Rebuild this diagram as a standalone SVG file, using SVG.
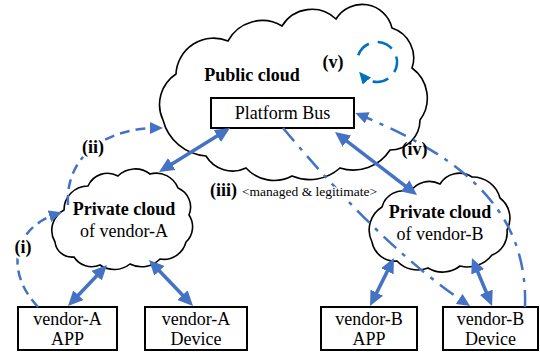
<svg xmlns="http://www.w3.org/2000/svg" width="540" height="355" viewBox="0 0 540 355">
<style>
.cloud{fill:#fff;stroke:#000;stroke-width:1.6}
.box{fill:#fff;stroke:#000;stroke-width:2}
.t{font-family:"Liberation Serif","Times New Roman",serif;font-size:18px;fill:#000;text-anchor:middle}
.b{font-weight:bold}
.thick{fill:none;stroke:#4472C4;stroke-width:3.5;marker-start:url(#ah);marker-end:url(#ah)}
.dash{fill:none;stroke:#4472C4;stroke-width:2.5;stroke-dasharray:10 6;marker-end:url(#dh)}
.dashdot{fill:none;stroke:#4472C4;stroke-width:2.5;stroke-dasharray:17 8 4 8;marker-end:url(#dh)}
.halo{stroke:#fff;stroke-width:5;paint-order:stroke;stroke-linejoin:round}
</style>
<defs>
<marker id="ah" viewBox="0 0 15 14" markerUnits="userSpaceOnUse" markerWidth="15" markerHeight="14" refX="5" refY="7" orient="auto-start-reverse">
<path d="M0,0 L15,7 L0,14 z" fill="#4472C4"/>
</marker>
<marker id="dh" viewBox="0 0 13 12" markerUnits="userSpaceOnUse" markerWidth="13" markerHeight="12" refX="9" refY="6" orient="auto">
<path d="M0,0 L13,6 L0,12 z" fill="#4472C4"/>
</marker>
<marker id="vh" viewBox="0 0 12 11" markerUnits="userSpaceOnUse" markerWidth="12" markerHeight="11" refX="8" refY="5.5" orient="auto">
<path d="M0,0 L12,5.5 L0,11 z" fill="#0070C0"/>
</marker>
</defs>

<g id="node-public-cloud">
<path class="cloud" d="M163,120 A36.5,36.5 0 0 1 176,74 A37.6,37.6 0 0 1 228,41 A38.7,38.7 0 0 1 282,26 A35,35 0 0 1 336,19 A30.7,30.7 0 0 1 392,28 A31.4,31.4 0 0 1 412,68 A37,37 0 0 1 420,120 A30,30 0 0 1 390,150 A43.5,43.5 0 0 1 340,168 A45.6,45.6 0 0 1 292,176 A38,38 0 0 1 246,168 A31,31 0 0 1 206,156 A48,48 0 0 1 163,120 Z"/>
<text class="t b" x="252" y="81">Public cloud</text>
</g>

<g id="node-platform-bus">
<rect class="box" x="211" y="98" width="143" height="30"/>
<text class="t" x="282.5" y="119">Platform Bus</text>
</g>

<g id="node-private-cloud-a">
<path class="cloud" d="M55,242 A23,23 0 0 1 64,210 A24,24 0 0 1 88,186 A21.4,21.4 0 0 1 118,176 A24.3,24.3 0 0 1 150,174 A23.5,23.5 0 0 1 178,188 A20.7,20.7 0 0 1 189,215 A21,21 0 0 1 186,242 A23,23 0 0 1 160,259 A25.6,25.6 0 0 1 130,264 A25,25 0 0 1 100,265 A21,21 0 0 1 74,257 A17,17 0 0 1 55,242 Z"/>
<text class="t b" x="124" y="215">Private cloud</text>
<text class="t" x="124" y="237">of vendor-A</text>
</g>

<g id="node-private-cloud-b">
<path class="cloud" d="M372,242 A27,27 0 0 1 382,207 A21.6,21.6 0 0 1 410,192 A23,23 0 0 1 440,184 A22.7,22.7 0 0 1 472,177 A28.5,28.5 0 0 1 500,198 A25.4,25.4 0 0 1 507,230 A23.8,23.8 0 0 1 492,255 A31,31 0 0 1 460,266 A28,28 0 0 1 428,268 A28,28 0 0 1 397,261 A23.5,23.5 0 0 1 372,242 Z"/>
<text class="t b" x="440" y="218">Private cloud</text>
<text class="t" x="440" y="240">of vendor-B</text>
</g>

<g id="node-vendor-a-app">
<rect class="box" x="18" y="307" width="99" height="43"/>
<text class="t" x="67.5" y="325">vendor-A</text>
<text class="t" x="67.5" y="345">APP</text>
</g>

<g id="node-vendor-a-device">
<rect class="box" x="145" y="307" width="102" height="43"/>
<text class="t" x="196" y="325">vendor-A</text>
<text class="t" x="196" y="345">Device</text>
</g>

<g id="node-vendor-b-app">
<rect class="box" x="321" y="307" width="96" height="43"/>
<text class="t" x="369" y="325">vendor-B</text>
<text class="t" x="369" y="345">APP</text>
</g>

<g id="node-vendor-b-device">
<rect class="box" x="443" y="307" width="95" height="43"/>
<text class="t" x="490.5" y="325">vendor-B</text>
<text class="t" x="490.5" y="345">Device</text>
</g>

<g id="connectors">
<path class="thick" d="M167.5,166.7 L221.5,133.3"/>
<path class="thick" d="M342.9,138.1 L409.1,188.9"/>
<path class="thick" d="M74.9,298.8 L100.1,272.2"/>
<path class="thick" d="M155.9,267.2 L186.1,298.8"/>
<path class="thick" d="M389.5,266.9 L374.5,297.1"/>
<path class="thick" d="M475.8,267.2 L488.2,296.8"/>
<path class="dash" d="M38,307 C5,272 12,228 58,213.5"/>
<path class="dash" d="M68,205 C65,160 100,128 159,128"/>
<path class="dashdot" d="M283,128 Q385,250 466.7,303.8"/>
<path class="dashdot" d="M525,307 C528,215 470,160 359,114.5"/>
<path d="M358.2,55.2 A20,20 0 1 1 361.7,74.9" fill="none" stroke="#0070C0" stroke-width="2.5" stroke-dasharray="16 9" marker-end="url(#vh)"/>
</g>

<g id="labels">
<text class="t b" x="333" y="68">(v)</text>
<text class="t b halo" x="23" y="253">(i)</text>
<text class="t b halo" x="93" y="153">(ii)</text>
<text class="t b" x="210" y="196" style="text-anchor:start">(iii)</text>
<text class="t halo" x="242" y="196" style="text-anchor:start;font-size:13.5px;stroke-width:3">&lt;managed &amp; legitimate&gt;</text>
<text class="t b" x="414.5" y="155">(iv)</text>
</g>
</svg>
